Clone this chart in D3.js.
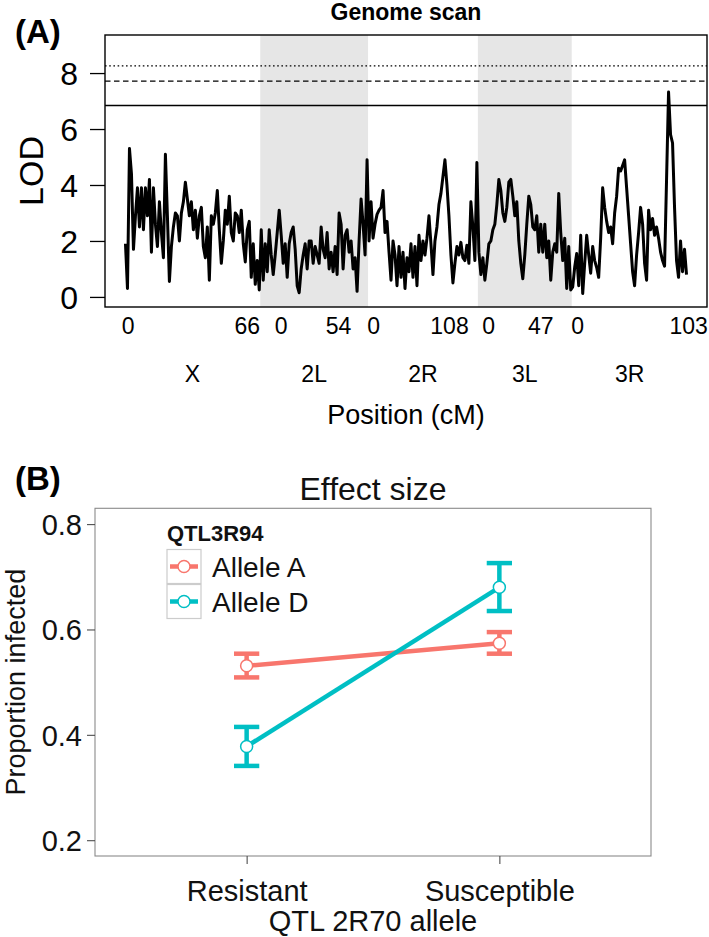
<!DOCTYPE html>
<html><head><meta charset="utf-8">
<script src="https://cdn.jsdelivr.net/npm/d3@7"></script>
<style>
html,body{margin:0;padding:0;background:#fff;}
svg{display:block;font-family:"Liberation Sans",Arial,Helvetica,sans-serif;}
</style></head><body>
<svg id="chart" width="709" height="937"></svg>
<script>
// ---------------- Panel A data ----------------
const chromosomes = ["X", "2L", "2R", "3L", "3R"];
const chromLengthCM = [66, 54, 108, 47, 103];
const shadedChroms = ["2L", "3L"];
const lodX = [1.9,0.3,5.3,4.4,1.7,2.9,3.9,2.5,3.9,2.4,3.9,2.9,4.2,1.6,3.9,2.6,1.8,3.4,2.3,1.4,5.1,2.9,0.55,1.8,2.5,3.0,2.9,2.0,3.0,3.4,4.1,3.5,2.9,3.4,2.4,3.1,2.1,2.9,3.2,1.8,1.4,2.5,0.6,2.9,2.6,3.0,3.8,2.4,1.2,2.0,3.1,2.6,3.6,2.3,2.0,3.0,2.9,2.3,3.1,1.9,1.25,2.4,2.7,0.7,1.9,0.45,1.3,0.25];
const lod2L = [2.4,0.6,1.9,0.9,2.4,1.5,0.8,1.5,2.3,3.1,2.2,1.2,1.9,0.7,1.9,2.3,2.5,1.7,0.4,0.15,1.0,1.5,1.9,1.0,2.0,2.0,1.2,1.8,1.5,1.2,2.5,1.7,1.4,2.3,1.0,1.6,0.9,1.8,0.8,3.0,2.6,1.0,2.2,2.4,1.6,2.0,1.0,1.4,0.2,2.0,3.5,2.6,1.5,4.9];
const lod2R = [2.0,3.4,2.1,2.6,2.95,3.1,3.2,3.8,2.3,2.7,1.6,0.6,2.0,1.5,0.4,1.8,0.7,1.6,0.3,1.4,0.9,1.9,0.7,1.8,0.4,2.2,1.3,2.0,1.5,2.1,2.9,1.9,0.8,2.0,2.5,3.3,3.7,4.3,4.9,4.0,2.9,1.5,0.5,1.2,1.8,1.5,1.95,1.4,1.3,1.85,1.2,3.4,2.5,1.3,4.8];
const lod3L = [1.6,0.8,1.4,0.6,1.2,1.9,2.0,2.4,2.6,3.3,4.2,3.8,3.0,2.7,3.2,4.1,4.2,3.6,2.9,3.4,2.0,1.2,0.65,1.5,2.6,3.6,3.3,2.5,2.4,2.9,1.6,2.6,1.6,2.6,1.4,2.0,0.6,1.6,1.9,1.6,3.7,2.3,1.3,2.1,0.3,1.8,0.25];
const lod3R = [0.36,1.07,1.55,0.4,2.2,0.12,1.2,2.2,1.5,0.85,1.8,1.3,1.05,0.7,2.1,3.9,3.2,2.7,2.3,2.5,1.9,3.0,3.6,4.6,4.5,4.7,4.9,3.9,2.9,1.9,0.9,0.4,1.5,2.3,3.2,2.6,1.2,0.6,3.1,2.4,2.8,2.2,2.5,2.1,1.6,1.3,1.1,4.2,7.32,5.8,5.5,3.2,1.3,0.7,2.0,0.9,1.7,0.8];
const thresholds = [6.84, 7.71, 8.26];
const lodTicks = [0, 2, 4, 6, 8];
// marker-index positions of the "0" and end-cM labels of each chromosome
const cmStartTickIdx = [1.3, 78, 124.3, 181.9, 226.5];
const cmEndTickIdx = [61, 106.7, 162.3, 208, 282.1];

// ---------------- Panel B data ----------------
const categories = ["Resistant", "Susceptible"];
const alleles = ["Allele A", "Allele D"];
const meanA = [0.531, 0.574];
const lowA = [0.509, 0.554];
const highA = [0.554, 0.595];
const meanD = [0.378, 0.680];
const lowD = [0.341, 0.635];
const highD = [0.415, 0.726];
const propTicks = [0.2, 0.4, 0.6, 0.8];
const alleleColors = ["#F8766D", "#00BFC4"];

const svg = d3.select("#chart");
const FONT = '"Liberation Sans",Arial,Helvetica,sans-serif';

// =============== PANEL A ===============
const A = {left: 105, right: 707, top: 35, bottom: 307};
const lodSeries = [lodX, lod2L, lod2R, lod3L, lod3R];
const offsets = [];
let N = 0;
lodSeries.forEach(a => { offsets.push(N); N += a.length; });
const pts = lodSeries.flatMap((a, ci) => a.map((v, j) => ({i: offsets[ci] + j, v})));
const pad = 0.0365 * (N - 1);
const xA = d3.scaleLinear().domain([-pad, N - 1 + pad]).range([A.left, A.right]);
const yA = d3.scaleLinear().domain([-0.36, 9.36]).range([A.bottom, A.top]);

const gA = svg.append("g");
chromosomes.forEach((c, ci) => {
  if (!shadedChroms.includes(c)) return;
  const x0 = xA(offsets[ci] - 0.5), x1 = xA(offsets[ci] + lodSeries[ci].length - 0.5);
  gA.append("rect").attr("x", x0).attr("y", A.top).attr("width", x1 - x0)
    .attr("height", A.bottom - A.top).attr("fill", "#e6e6e6");
});
const thrDash = [null, "5.5,3.5", "1.6,2.6"];
thresholds.forEach((t, k) => {
  gA.append("line").attr("x1", A.left).attr("x2", A.right)
    .attr("y1", yA(t)).attr("y2", yA(t))
    .attr("stroke", "#000").attr("stroke-width", 1.3)
    .attr("stroke-dasharray", thrDash[k]);
});
gA.append("path").datum(pts)
  .attr("fill", "none").attr("stroke", "#000").attr("stroke-width", 3)
  .attr("stroke-linejoin", "round")
  .attr("d", d3.line().x(d => xA(d.i)).y(d => yA(d.v)));
gA.append("rect").attr("x", A.left).attr("y", A.top)
  .attr("width", A.right - A.left).attr("height", A.bottom - A.top)
  .attr("fill", "none").attr("stroke", "#000").attr("stroke-width", 1.4);
const yAxA = gA.append("g").attr("transform", `translate(${A.left},0)`)
  .call(d3.axisLeft(yA).tickValues(lodTicks).tickSize(15).tickPadding(12).tickSizeOuter(0));
yAxA.select(".domain").remove();
yAxA.selectAll("line").attr("stroke", "#000").attr("stroke-width", 1.3);
yAxA.selectAll("text").attr("font-size", 32).attr("font-family", FONT).attr("fill", "#000").attr("dy", "0.36em");
const cmLabels = [];
chromosomes.forEach((c, ci) => {
  cmLabels.push({idx: cmStartTickIdx[ci], t: "0"});
  cmLabels.push({idx: cmEndTickIdx[ci], t: String(chromLengthCM[ci])});
});
gA.selectAll("text.cm").data(cmLabels).join("text").attr("class", "cm")
  .attr("x", d => xA(d.idx)).attr("y", 334).attr("text-anchor", "middle")
  .attr("font-size", 23).attr("font-family", FONT).text(d => d.t);
gA.selectAll("text.chr").data(chromosomes).join("text").attr("class", "chr")
  .attr("x", (c, ci) => xA(offsets[ci] + (lodSeries[ci].length - 1) / 2))
  .attr("y", 382).attr("text-anchor", "middle")
  .attr("font-size", 23).attr("font-family", FONT).text(d => d);
gA.append("text").attr("x", (A.left + A.right) / 2).attr("y", 424).attr("text-anchor", "middle")
  .attr("font-size", 27).attr("font-family", FONT).text("Position (cM)");
gA.append("text").attr("transform", `translate(43,${(A.top + A.bottom) / 2}) rotate(-90)`)
  .attr("text-anchor", "middle").attr("font-size", 34).attr("font-family", FONT).text("LOD");
gA.append("text").attr("x", (A.left + A.right) / 2).attr("y", 20).attr("text-anchor", "middle")
  .attr("font-size", 23).attr("font-weight", "bold").attr("font-family", FONT).text("Genome scan");
gA.append("text").attr("x", 15).attr("y", 43).attr("font-size", 33)
  .attr("font-weight", "bold").attr("font-family", FONT).text("(A)");

// =============== PANEL B ===============
const B = {left: 95, right: 651, top: 508.3, bottom: 856};
const xB = d3.scalePoint().domain(categories).range([B.left, B.right]).padding(0.6);
const yB = d3.scaleLinear().domain([0.17, 0.83]).range([B.bottom, B.top]);
const gB = svg.append("g");
gB.append("rect").attr("x", B.left).attr("y", B.top)
  .attr("width", B.right - B.left).attr("height", B.bottom - B.top)
  .attr("fill", "#fff").attr("stroke", "#8a8a8a").attr("stroke-width", 1.1);

const groups = [
  {name: alleles[0], mean: meanA, low: lowA, high: highA, color: alleleColors[0]},
  {name: alleles[1], mean: meanD, low: lowD, high: highD, color: alleleColors[1]}
];
const ebHalf = xB.step() * 0.05;
groups.forEach(g => {
  const rows = categories.map((c, k) => ({c, m: g.mean[k], lo: g.low[k], hi: g.high[k]}));
  const eb = gB.append("g").attr("stroke", g.color).attr("stroke-width", 4.5).attr("fill", "none");
  rows.forEach(r => {
    const x = xB(r.c);
    eb.append("line").attr("x1", x).attr("x2", x).attr("y1", yB(r.lo)).attr("y2", yB(r.hi));
    eb.append("line").attr("x1", x - ebHalf).attr("x2", x + ebHalf).attr("y1", yB(r.lo)).attr("y2", yB(r.lo));
    eb.append("line").attr("x1", x - ebHalf).attr("x2", x + ebHalf).attr("y1", yB(r.hi)).attr("y2", yB(r.hi));
  });
  gB.append("path").datum(rows).attr("fill", "none").attr("stroke", g.color).attr("stroke-width", 4.5)
    .attr("d", d3.line().x(r => xB(r.c)).y(r => yB(r.m)));
  g.rows = rows;
});
groups.forEach(g => {
  gB.selectAll(null).data(g.rows).join("circle")
    .attr("cx", r => xB(r.c)).attr("cy", r => yB(r.m)).attr("r", 6)
    .attr("fill", "#fff").attr("stroke", g.color).attr("stroke-width", 1.5);
});
const yAxB = gB.append("g").attr("transform", `translate(${B.left},0)`)
  .call(d3.axisLeft(yB).tickValues(propTicks).tickFormat(d3.format(".1f")).tickSize(8).tickPadding(5).tickSizeOuter(0));
yAxB.select(".domain").remove();
yAxB.selectAll("line").attr("stroke", "#4d4d4d").attr("stroke-width", 1.1);
yAxB.selectAll("text").attr("font-size", 29).attr("font-family", FONT).attr("fill", "#111").attr("dy", "0.36em");
const xAxB = gB.append("g").attr("transform", `translate(0,${B.bottom})`)
  .call(d3.axisBottom(xB).tickSize(8).tickSizeOuter(0));
xAxB.select(".domain").remove();
xAxB.selectAll("line").attr("stroke", "#4d4d4d").attr("stroke-width", 1.1);
xAxB.selectAll("text").attr("font-size", 29).attr("font-family", FONT).attr("fill", "#111")
  .attr("dy", null).attr("y", 45);
gB.append("text").attr("x", (B.left + B.right) / 2).attr("y", 931).attr("text-anchor", "middle")
  .attr("font-size", 29).attr("font-family", FONT).attr("fill", "#111").text("QTL 2R70 allele");
gB.append("text").attr("transform", `translate(25,${(B.top + B.bottom) / 2}) rotate(-90)`)
  .attr("text-anchor", "middle").attr("font-size", 27).attr("font-family", FONT).attr("fill", "#111")
  .text("Proportion infected");
gB.append("text").attr("x", (B.left + B.right) / 2).attr("y", 500).attr("text-anchor", "middle")
  .attr("font-size", 32).attr("font-family", FONT).attr("fill", "#111").text("Effect size");
gB.append("text").attr("x", 15).attr("y", 490).attr("font-size", 33)
  .attr("font-weight", "bold").attr("font-family", FONT).text("(B)");
const leg = gB.append("g");
leg.append("text").attr("x", 167).attr("y", 541).attr("font-size", 22).attr("font-weight", "bold")
  .attr("font-family", FONT).attr("fill", "#111").text("QTL3R94");
groups.forEach((g, k) => {
  const ky = 549.5 + k * 35;
  leg.append("rect").attr("x", 167).attr("y", ky).attr("width", 34).attr("height", 34)
    .attr("fill", "#fff").attr("stroke", "#cccccc").attr("stroke-width", 1.2);
  leg.append("line").attr("x1", 170).attr("x2", 198).attr("y1", ky + 17).attr("y2", ky + 17)
    .attr("stroke", g.color).attr("stroke-width", 4.5);
  leg.append("circle").attr("cx", 184).attr("cy", ky + 17).attr("r", 6)
    .attr("fill", "#fff").attr("stroke", g.color).attr("stroke-width", 1.5);
  leg.append("text").attr("x", 212).attr("y", ky + 27.5).attr("font-size", 28)
    .attr("font-family", FONT).attr("fill", "#111").text(g.name);
});
</script>
</body></html>
